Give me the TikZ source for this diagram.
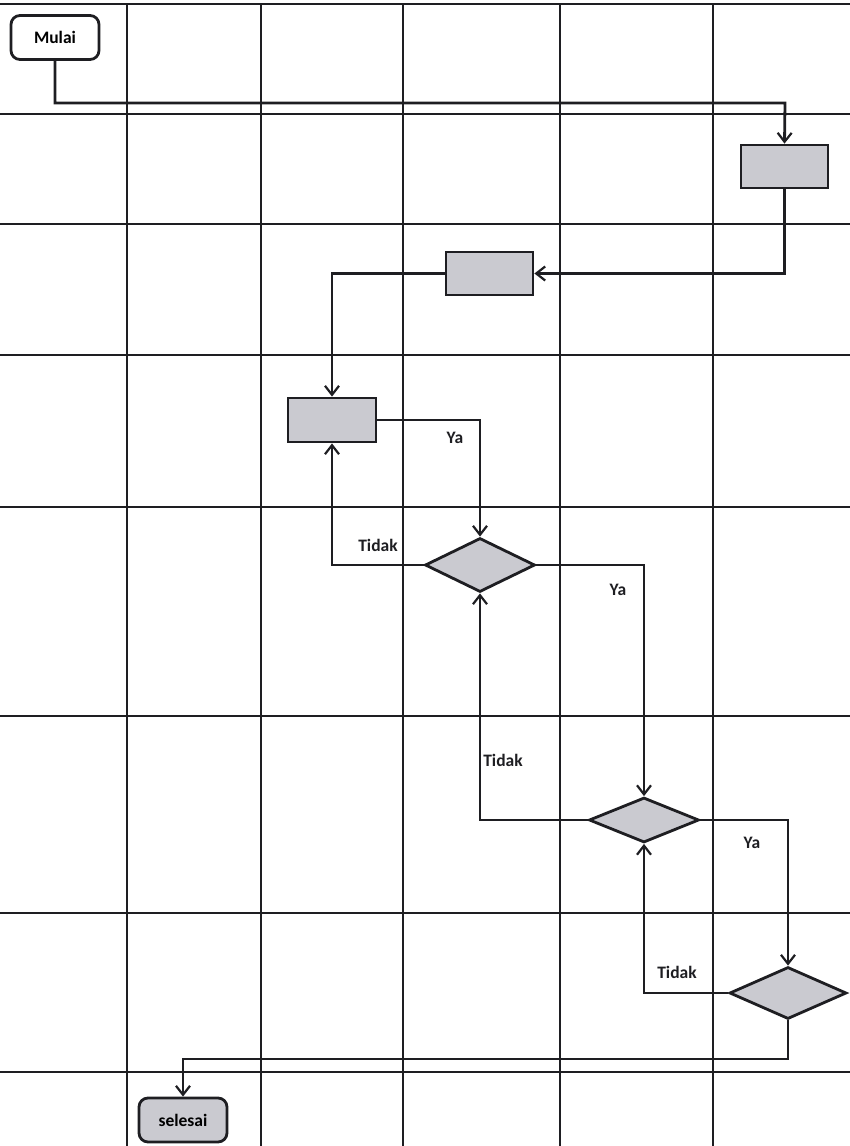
\documentclass[tikz,border=0pt]{standalone}
\usepackage{fontspec}
\setmainfont{Carlito}
\usetikzlibrary{arrows.meta,calc,positioning,shapes.geometric}

\definecolor{ink}{RGB}{30,30,34}
\definecolor{shade}{RGB}{202,202,208}

\tikzset{
  gridline/.style={draw=ink, line width=1.8pt},
  flow/.style={draw=ink, line width=2.8pt, -{Straight Barb[length=9pt,width=14pt,line width=2.2pt]}},
  terminal/.style={draw=ink, line width=2.8pt, rounded corners=9pt, minimum width=88pt, minimum height=44pt, inner sep=0pt},
  process/.style={draw=ink, line width=2.8pt, fill=shade, minimum width=87pt, minimum height=43pt, inner sep=0pt},
  decision/.style={draw=ink, line width=2.8pt, fill=shade, diamond, aspect=2.1, inner sep=0pt},
  lbl/.style={font=\fontsize{17.5}{20}\selectfont\bfseries, text=ink, inner sep=0pt}
}

\begin{document}
\begin{tikzpicture}[x=1pt, y=-1pt]
\useasboundingbox (0,0) rectangle (850,1146);

% grid of the swimlanes
\foreach \x in {127,261,403,560,713}
  \draw[gridline] (\x,4) -- (\x,1146);
\foreach \y in {4,114,224,355,507,716,913,1072}
  \draw[gridline] (0,\y) -- (850,\y);

% start and end
\node[terminal, fill=white] (mulai) at (55,37.5) {\fontsize{17.5}{20}\selectfont\bfseries Mulai};
\node[terminal, fill=shade] (selesai) at (183,1120) {\fontsize{17.5}{20}\selectfont\bfseries selesai};

% processes
\node[process] (proses1) at (784.5,166.5) {};
\node[process] (proses2) at (489.5,273.5) {};
\node[process, minimum width=88pt, minimum height=44pt] (proses3) at (332,420) {};

% decisions
\node[decision, minimum width=110pt, minimum height=54pt] (cek1) at (480,565) {};
\node[decision, minimum width=110pt, minimum height=45pt] (cek2) at (644,820) {};
\node[decision, minimum width=117pt, minimum height=52pt] (cek3) at (788,993) {};

% bends
\coordinate (turn1) at (785,103);
\coordinate (turn2) at (183,1059);

\draw[flow] (mulai.south) |- (turn1) -- (proses1.north);
\draw[flow] (proses1.south) |- (proses2.east);
\draw[flow] (proses2.west) -| (proses3.north);
\draw[flow] (proses3.east) -| (cek1.north);
\draw[flow] (cek1.west) -| (proses3.south);
\draw[flow] (cek1.east) -| (cek2.north);
\draw[flow] (cek2.west) -| (cek1.south);
\draw[flow] (cek2.east) -| (cek3.north);
\draw[flow] (cek3.west) -| (cek2.south);
\draw[flow] (cek3.south) |- (turn2) -- (selesai.north);

% labels
\node[lbl] (ya1) at (455,438) {Ya};
\node[lbl] (tidak1) at (378,545) {Tidak};
\node[lbl] (ya2) at (618,590) {Ya};
\node[lbl] (tidak2) at (503,760) {Tidak};
\node[lbl] (ya3) at (752,843) {Ya};
\node[lbl] (tidak3) at (677,972) {Tidak};
\end{tikzpicture}
\end{document}
